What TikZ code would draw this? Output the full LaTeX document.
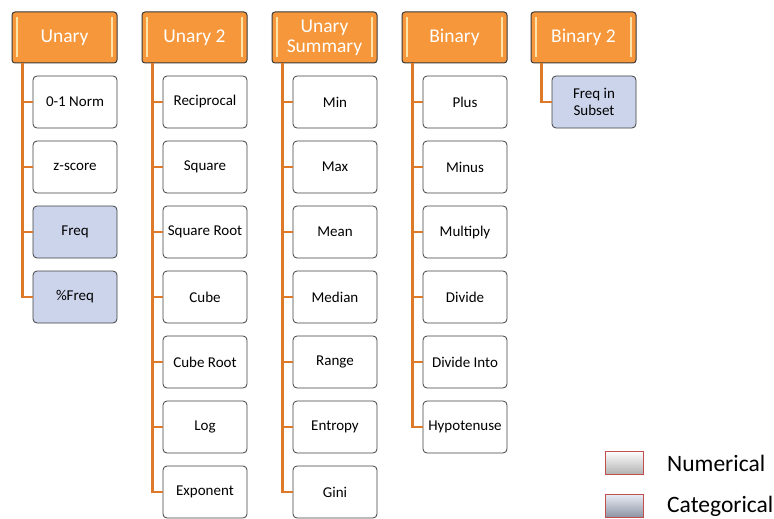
\documentclass[tikz,border=0pt]{standalone}
\usepackage{fontspec}
\setmainfont{Carlito}
\usetikzlibrary{calc}
\definecolor{hdrfill}{HTML}{F5973A}
\definecolor{hdrdraw}{HTML}{3A3A3A}
\definecolor{hdrglow}{HTML}{FCE3A8}
\definecolor{linkcol}{HTML}{DD7A2A}
\definecolor{catfill}{HTML}{CBD4EA}
\definecolor{legred}{HTML}{C0504D}
\tikzset{
  x=1pt, y=-1pt,
  hdr/.style={draw=hdrdraw, line width=1pt, fill=hdrfill, rounded corners=3pt,
    minimum width=105pt, minimum height=51pt, inner sep=0pt,
    text=white, font=\fontsize{19.5}{20}\selectfont, align=center},
  numbox/.style={draw=black!75, line width=0.8pt, fill=white, rounded corners=4pt,
    minimum width=84pt, minimum height=52pt, inner sep=0pt,
    font=\fontsize{15}{17}\selectfont, align=center},
  catbox/.style={numbox, fill=catfill},
  link/.style={draw=linkcol, line width=2.2pt},
  legbox/.style={draw=legred, line width=1pt, minimum width=38pt, minimum height=23pt, inner sep=0pt},
  legtext/.style={anchor=west, font=\fontsize{23.5}{25}\selectfont, inner sep=0pt}
}
% header with the light bevel strips at both sides
\newcommand{\hdrbox}[3]{%
  \node[hdr] (#1) at (#2,37.5) {#3};
  \draw[hdrglow, line width=1.3pt] ($(#1.north west)+(5.5,6)$) -- ($(#1.south west)+(5.5,-6)$);
  \draw[hdrglow, line width=1.3pt] ($(#1.north east)+(-5.5,6)$) -- ($(#1.south east)+(-5.5,-6)$);
  \coordinate (#1-trunk) at ($(#1.south west)+(11,0)$);
}
% child item hanging from a header trunk
\newcommand{\itembox}[5]{%
  \node[#2] (#1) at (#3,#4) {#5};
}
\begin{document}
\begin{tikzpicture}
\useasboundingbox (0,0) rectangle (774,519);

% ---- Unary
\hdrbox{u}{64.5}{Unary}
\itembox{u1}{numbox}{75}{102}{0-1 Norm}
\itembox{u2}{numbox}{75}{167}{z-score}
\itembox{u3}{catbox}{75}{232}{Freq}
\itembox{u4}{catbox}{75}{297}{\%Freq}
\foreach \c in {u1,u2,u3,u4} \draw[link] (u-trunk) |- (\c.west);

% ---- Unary 2
\hdrbox{v}{194.5}{Unary 2}
\itembox{v1}{numbox}{205}{102}{Reciprocal}
\itembox{v2}{numbox}{205}{167}{Square}
\itembox{v3}{numbox}{205}{232}{Square Root}
\itembox{v4}{numbox}{205}{297}{Cube}
\itembox{v5}{numbox}{205}{362}{Cube Root}
\itembox{v6}{numbox}{205}{427}{Log}
\itembox{v7}{numbox}{205}{492}{Exponent}
\foreach \c in {v1,v2,v3,v4,v5,v6,v7} \draw[link] (v-trunk) |- (\c.west);

% ---- Unary Summary
\hdrbox{s}{324.5}{Unary\\Summary}
\itembox{s1}{numbox}{335}{102}{Min}
\itembox{s2}{numbox}{335}{167}{Max}
\itembox{s3}{numbox}{335}{232}{Mean}
\itembox{s4}{numbox}{335}{297}{Median}
\itembox{s5}{numbox}{335}{362}{Range}
\itembox{s6}{numbox}{335}{427}{Entropy}
\itembox{s7}{numbox}{335}{492}{Gini}
\foreach \c in {s1,s2,s3,s4,s5,s6,s7} \draw[link] (s-trunk) |- (\c.west);

% ---- Binary
\hdrbox{b}{454.5}{Binary}
\itembox{b1}{numbox}{465}{102}{Plus}
\itembox{b2}{numbox}{465}{167}{Minus}
\itembox{b3}{numbox}{465}{232}{Multiply}
\itembox{b4}{numbox}{465}{297}{Divide}
\itembox{b5}{numbox}{465}{362}{Divide Into}
\itembox{b6}{numbox}{465}{427}{Hypotenuse}
\foreach \c in {b1,b2,b3,b4,b5,b6} \draw[link] (b-trunk) |- (\c.west);

% ---- Binary 2
\hdrbox{c}{583.5}{Binary 2}
\itembox{c1}{catbox}{594}{102}{Freq in\\Subset}
\draw[link] (c-trunk) |- (c1.west);

% ---- legend
\node[legbox, top color=white, bottom color=black!30] (ln) at (624,462.5) {};
\node[legtext] (lnt) at (667,463) {Numerical};
\node[legbox, top color=catfill!40, bottom color=catfill!70!black] (lc) at (624,505.5) {};
\node[legtext] (lct) at (667,506) {Categorical};
\end{tikzpicture}
\end{document}
